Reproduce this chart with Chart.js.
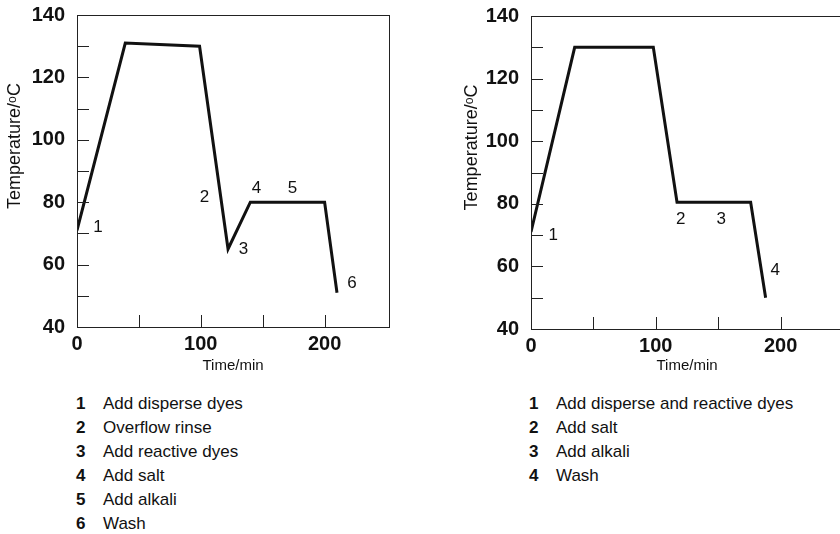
<!DOCTYPE html>
<html>
<head>
<meta charset="utf-8">
<script src="https://cdn.jsdelivr.net/npm/chart.js@4"></script>
<style>
    body { margin: 0; width: 840px; height: 534px; overflow: hidden; background: #fff; position: relative;
           font-family: "Liberation Sans", Arial, sans-serif; color: #111; }
    canvas { position: absolute; top: 0; }
    .legenda { position: absolute; font-size: 17px; }
    .legenda div { height: 24px; line-height: 24px; white-space: nowrap; }
    .legenda b { display: inline-block; width: 27px; }
</style>
</head>
<body>
<canvas id="grafico-a" width="400" height="380" style="left:0px"></canvas>
<canvas id="grafico-b" width="430" height="380" style="left:420px"></canvas>
<div class="legenda" id="legenda-a" style="left:76px; top:392px"></div>
<div class="legenda" id="legenda-b" style="left:529px; top:392px"></div>
<script>
// Perfil A: dois banhos (disperso, depois reativo)
const tempoA = [0, 39, 99, 122, 140, 200, 210];
const tempA = [71, 131, 130, 65, 80, 80, 51];
const rotulosA = ["1", "2", "3", "4", "5", "6"];
const rotuloXA = [17, 103, 134.5, 145, 174, 222];
const rotuloYA = [72, 81.6, 65, 84.6, 84.6, 54];
const passosA = ["Add disperse dyes", "Overflow rinse", "Add reactive dyes", "Add salt", "Add alkali", "Wash"];

// Perfil B: banho unico
const tempoB = [0, 35, 98, 117, 176, 188];
const tempB = [71, 130, 130, 80.5, 80.5, 50];
const rotulosB = ["1", "2", "3", "4"];
const rotuloXB = [17.8, 120, 152.5, 195.6];
const rotuloYB = [70, 75, 75, 58.8];
const passosB = ["Add disperse and reactive dyes", "Add salt", "Add alkali", "Wash"];

// eixos
const marcasY = [50, 60, 70, 80, 90, 100, 110, 120, 130];
const marcasX = [50, 100, 150, 200, 250];
const rotulosEixoX = [0, 100, 200];
const rotulosEixoY = [40, 60, 80, 100, 120, 140];
const FONTE = "'Liberation Sans', Arial, sans-serif";

function decoracao(cfg) {
    return {
        id: "decoracao",
        afterDraw(chart) {
            const ctx = chart.ctx;
            const { left, right, top, bottom } = chart.chartArea;
            const sx = chart.scales.x, sy = chart.scales.y;
            ctx.save();
            // moldura e marcas para dentro
            ctx.strokeStyle = "#222";
            ctx.lineWidth = 1;
            ctx.strokeRect(left + 0.5, top + 0.5, right - left, bottom - top);
            ctx.beginPath();
            marcasY.forEach(v => {
                const y = Math.round(sy.getPixelForValue(v)) + 0.5;
                ctx.moveTo(left, y); ctx.lineTo(left + 12, y);
            });
            marcasX.forEach(v => {
                const x = Math.round(sx.getPixelForValue(v)) + 0.5;
                if (right - x < 4) return; // colada na moldura
                ctx.moveTo(x, bottom); ctx.lineTo(x, bottom - 12);
            });
            ctx.stroke();

            ctx.fillStyle = "#111";
            ctx.textAlign = "center";
            ctx.textBaseline = "middle";
            // titulo eixo X
            ctx.font = "15px " + FONTE;
            ctx.fillText("Time/min", (left + cfg.direitaVisivel) / 2, 366);
            // titulo eixo Y
            ctx.save();
            ctx.translate(cfg.tituloYx, sy.getPixelForValue(98));
            ctx.rotate(-Math.PI / 2);
            ctx.font = "18px " + FONTE;
            ctx.fillText("Temperature/\u1D52C", 0, 0);
            ctx.restore();
            // numeros das etapas
            ctx.font = "17px " + FONTE;
            cfg.rotulos.forEach((t, i) => {
                ctx.fillText(t, sx.getPixelForValue(cfg.rx[i]), sy.getPixelForValue(cfg.ry[i]));
            });
            ctx.restore();
        }
    };
}

function gerarGrafico(id, tempos, temps, larguraY, alturaX, padding, maxX, cfg) {
    const pontos = tempos.map((t, i) => ({ x: t, y: temps[i] }));
    new Chart(document.getElementById(id), {
        type: "line",
        data: {
            datasets: [{
                data: pontos,
                borderColor: "#111",
                borderWidth: 3,
                borderJoinStyle: "miter",
                pointRadius: 0,
                tension: 0
            }]
        },
        options: {
            responsive: false,
            animation: false,
            layout: { padding: padding },
            plugins: { legend: { display: false }, tooltip: { enabled: false } },
            scales: {
                x: {
                    type: "linear",
                    min: 0,
                    max: maxX,
                    afterBuildTicks: s => { s.ticks = rotulosEixoX.map(v => ({ value: v })); },
                    afterFit: s => { s.height = alturaX; s.paddingLeft = 0; s.paddingRight = 0; },
                    grid: { display: false, drawTicks: false },
                    border: { display: false },
                    ticks: {
                        padding: 5,
                        maxRotation: 0,
                        autoSkip: false,
                        color: "#111",
                        font: { family: FONTE, size: 20, weight: "bold" }
                    }
                },
                y: {
                    min: 40,
                    max: 140,
                    afterBuildTicks: s => { s.ticks = rotulosEixoY.map(v => ({ value: v })); },
                    afterFit: s => { s.width = larguraY; s.paddingTop = 0; s.paddingBottom = 0; },
                    grid: { display: false, drawTicks: false },
                    border: { display: false },
                    ticks: {
                        padding: 12,
                        autoSkip: false,
                        color: "#111",
                        font: { family: FONTE, size: 20, weight: "bold" }
                    }
                }
            }
        },
        plugins: [decoracao(cfg)]
    });
}

function gerarLegenda(id, passos) {
    const el = document.getElementById(id);
    passos.forEach((p, i) => {
        const linha = document.createElement("div");
        linha.innerHTML = `<b>${i + 1}</b>${p}`;
        el.appendChild(linha);
    });
}

gerarGrafico("grafico-a", tempoA, tempA, 77, 53, { top: 15, right: 11, bottom: 0, left: 0 }, 252,
    { rotulos: rotulosA, rx: rotuloXA, ry: rotuloYA, tituloYx: 15, direitaVisivel: 389 });
gerarGrafico("grafico-b", tempoB, tempB, 111, 51, { top: 16, right: 7, bottom: 0, left: 0 }, 250,
    { rotulos: rotulosB, rx: rotuloXB, ry: rotuloYB, tituloYx: 52, direitaVisivel: 423 });

gerarLegenda("legenda-a", passosA);
gerarLegenda("legenda-b", passosB);
</script>
</body>
</html>
